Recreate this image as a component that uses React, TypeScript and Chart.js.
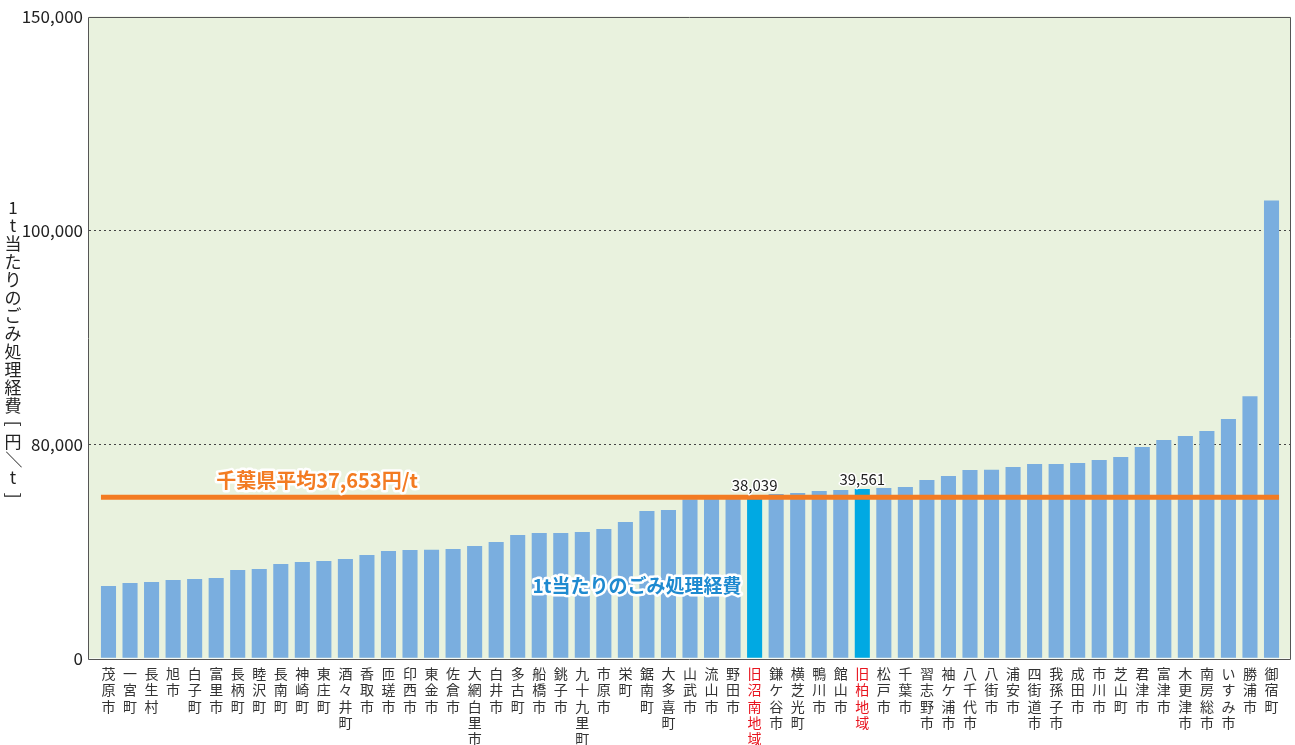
import React, { useEffect, useRef } from 'react';
import { Chart, registerables } from 'chart.js';

Chart.register(...registerables);

const categories = [
  '茂原市', '一宮町', '長生村', '旭市', '白子町', '富里市', '長柄町', '睦沢町', '長南町', '神崎町',
  '東庄町', '酒々井町', '香取市', '匝瑳市', '印西市', '東金市', '佐倉市', '大網白里市', '白井市', '多古町',
  '船橋市', '銚子市', '九十九里町', '市原市', '栄町', '鋸南町', '大多喜町', '山武市', '流山市', '野田市',
  '旧沼南地域', '鎌ケ谷市', '横芝光町', '鴨川市', '館山市', '旧柏地域', '松戸市', '千葉市', '習志野市', '袖ケ浦市',
  '八千代市', '八街市', '浦安市', '四街道市', '我孫子市', '成田市', '市川市', '芝山町', '君津市', '富津市',
  '木更津市', '南房総市', 'いすみ市', '勝浦市', '御宿町',
];

const costValues = [
  16890, 17590, 17820, 18290, 18530, 18760, 20630, 20860, 22030, 22500,
  22730, 23200, 24130, 25070, 25300, 25350, 25530, 26230, 27170, 28800,
  29270, 29300, 29500, 30200, 31840, 34410, 34640, 37200, 37500, 37850,
  38039, 38380, 38610, 39080, 39320, 39561, 39780, 40020, 41650, 42590,
  43990, 44050, 44690, 45390, 45420, 45620, 46320, 47020, 49360, 51000,
  51930, 53100, 55900, 61270, 107000,
];

const highlightedCategories = ['旧沼南地域', '旧柏地域'];
const prefectureAverage = 37653;
const averageLabel = '千葉県平均37,653円/t';
const seriesLabel = '1t当たりのごみ処理経費';
const yAxisTitle = '1t当たりのごみ処理経費[円／t]';
const yTickValues = [0, 50000, 100000, 150000];
const yTickLabels = ['0', '80,000', '100,000', '150,000'];

const FONT = "'Noto Sans CJK JP', 'Noto Sans', sans-serif";
const PLOT_BG = '#E9F2DE';
const BAR_COLOR = '#7AAEDF';
const HIGHLIGHT_COLOR = '#00A9E3';
const ORANGE = '#F37B22';
const SERIES_BLUE = '#1E8AD0';
const RED = '#E8141E';

const isHighlighted = (i: number) => highlightedCategories.includes(categories[i]);

function outlinedText(ctx: CanvasRenderingContext2D, text: string, x: number, y: number, fill: string, stroke: number) {
  ctx.lineJoin = 'round';
  ctx.strokeStyle = '#FFFFFF';
  ctx.lineWidth = stroke;
  ctx.strokeText(text, x, y);
  ctx.fillStyle = fill;
  ctx.fillText(text, x, y);
}

const decorPlugin = {
  id: 'decor',
  beforeDraw(chart: any) {
    const { ctx, chartArea: a } = chart;
    ctx.save();
    ctx.fillStyle = PLOT_BG;
    ctx.fillRect(a.left, a.top, a.right - a.left, a.bottom - a.top);
    ctx.restore();
  },
  afterDatasetsDraw(chart: any) {
    const { ctx, chartArea: a } = chart;
    const xs = chart.scales.x;
    const ys = chart.scales.y;
    const meta = chart.getDatasetMeta(0);
    const first = meta.data[0];
    const last = meta.data[meta.data.length - 1];
    const yAvg = ys.getPixelForValue(prefectureAverage);

    ctx.save();
    // prefecture average line
    ctx.strokeStyle = ORANGE;
    ctx.lineWidth = 5;
    ctx.beginPath();
    ctx.moveTo(first.x - first.width / 2, yAvg);
    ctx.lineTo(last.x + last.width / 2, yAvg);
    ctx.stroke();

    // value labels on highlighted bars
    ctx.font = `15px ${FONT}`;
    ctx.textAlign = 'center';
    ctx.textBaseline = 'middle';
    meta.data.forEach((el: any, i: number) => {
      if (!isHighlighted(i)) return;
      outlinedText(ctx, costValues[i].toLocaleString('en-US'), el.x, el.y - 10, '#222222', 3);
    });

    // average label
    ctx.font = `bold 20px ${FONT}`;
    outlinedText(ctx, averageLabel, xs.getPixelForValue(9.68), yAvg - 17, ORANGE, 5);

    // series label
    ctx.font = `bold 19px ${FONT}`;
    outlinedText(ctx, seriesLabel, xs.getPixelForValue(24.54), ys.getPixelForValue(16900), SERIES_BLUE, 5);

    // plot frame
    ctx.strokeStyle = '#555555';
    ctx.lineWidth = 1;
    ctx.strokeRect(Math.round(a.left) - 0.5, Math.round(a.top) + 0.5, Math.round(a.right - a.left), Math.round(a.bottom - a.top));
    ctx.restore();
  },
  afterDraw(chart: any) {
    const { ctx } = chart;
    const chars = Array.from(yAxisTitle);
    const step = 18;
    const cx = 13;
    const startY = 207.5;
    ctx.save();
    ctx.font = `17px ${FONT}`;
    ctx.fillStyle = '#222222';
    ctx.textAlign = 'center';
    ctx.textBaseline = 'middle';
    chars.forEach((ch, i) => {
      const cy = startY + i * step;
      if (ch === '[' || ch === ']' || ch === '／') {
        ctx.save();
        ctx.translate(cx, cy);
        ctx.rotate(Math.PI / 2);
        ctx.fillText(ch, 0, 0);
        ctx.restore();
      } else {
        ctx.fillText(ch, cx, cy);
      }
    });
    ctx.restore();
  },
};

export default function App() {
  const canvasRef = useRef<HTMLCanvasElement | null>(null);

  useEffect(() => {
    document.body.style.margin = '0';
    const canvas = canvasRef.current;
    if (!canvas) return;
    const chart = new Chart(canvas, {
      type: 'bar',
      data: {
        datasets: [
          {
            label: seriesLabel,
            data: costValues.map((v, i) => ({ x: i, y: v })),
            backgroundColor: categories.map((_, i) => (isHighlighted(i) ? HIGHLIGHT_COLOR : BAR_COLOR)),
            borderWidth: 0,
            barPercentage: 0.7,
            categoryPercentage: 1,
          },
        ],
      },
      options: {
        responsive: false,
        animation: false,
        devicePixelRatio: 1,
        layout: { padding: { left: 0, right: 4, top: 16.5, bottom: 0 } },
        plugins: { legend: { display: false }, tooltip: { enabled: false } },
        scales: {
          x: {
            type: 'linear',
            min: -0.905,
            max: 54.905,
            bounds: 'data',
            offset: false,
            grid: { display: false, offset: false, drawTicks: false },
            border: { display: false },
            afterBuildTicks: (s: any) => {
              s.ticks = categories.map((_, i) => ({ value: i }));
            },
            afterFit: (s: any) => {
              s.height = 86.7;
            },
            ticks: {
              autoSkip: false,
              maxRotation: 0,
              minRotation: 0,
              padding: 7.5,
              font: { family: FONT, size: 14, lineHeight: 1.16 },
              color: (c: any) => (isHighlighted(c.index) ? RED : '#333333'),
              callback: (_v: any, i: number) => Array.from(categories[i] ?? ''),
            },
          },
          y: {
            type: 'linear',
            min: 0,
            max: 150000,
            afterBuildTicks: (s: any) => {
              s.ticks = yTickValues.map((v) => ({ value: v }));
            },
            afterFit: (s: any) => {
              s.width = 89;
            },
            grid: {
              drawTicks: false,
              lineWidth: 1,
              color: (c: any) =>
                c.tick && c.tick.value > 0 && c.tick.value < 150000 ? '#444444' : 'rgba(0,0,0,0)',
            },
            border: { display: false, dash: [2, 3] },
            ticks: {
              padding: 6,
              color: '#222222',
              font: { family: FONT, size: 17 },
              callback: (_v: any, i: number) => yTickLabels[i],
            },
          },
        },
      },
      plugins: [decorPlugin],
    } as any);
    return () => chart.destroy();
  }, []);

  return (
    <div style={{ width: 1295, height: 745 }}>
      <canvas ref={canvasRef} width={1295} height={745} style={{ display: 'block' }} />
    </div>
  );
}
